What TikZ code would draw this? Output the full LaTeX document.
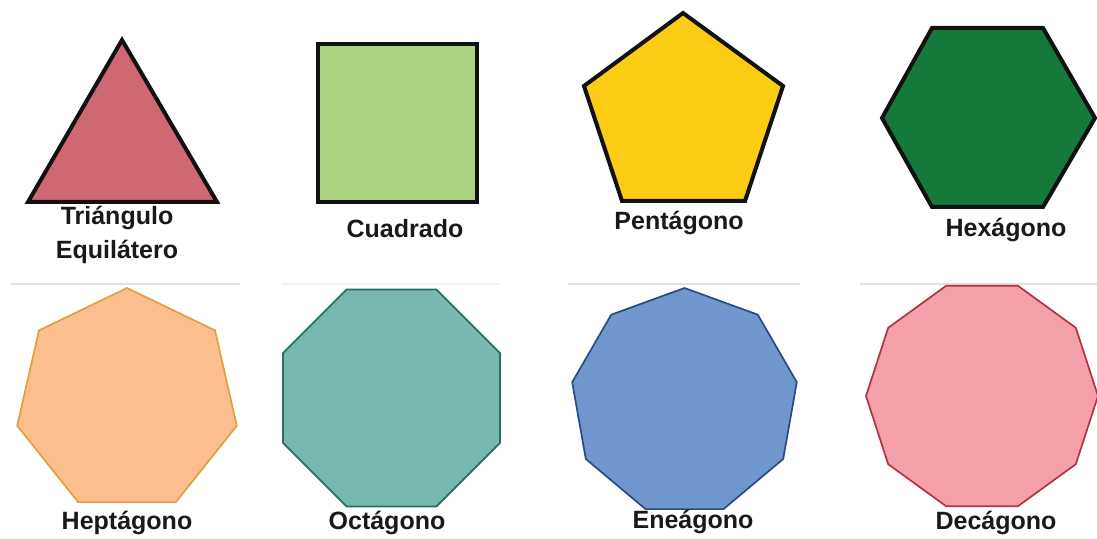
\documentclass[tikz,border=0pt]{standalone}
\usepackage{fontspec}
\setmainfont{Liberation Sans}
\definecolor{trifill}{RGB}{206,104,114}
\definecolor{sqfill}{RGB}{171,209,131}
\definecolor{pentfill}{RGB}{252,203,20}
\definecolor{hexfill}{RGB}{20,121,58}
\definecolor{hepfill}{RGB}{252,190,142}
\definecolor{hepline}{RGB}{226,160,60}
\definecolor{octfill}{RGB}{120,184,174}
\definecolor{octline}{RGB}{40,110,100}
\definecolor{enefill}{RGB}{111,150,205}
\definecolor{eneline}{RGB}{40,75,135}
\definecolor{decfill}{RGB}{244,161,170}
\definecolor{decline}{RGB}{180,50,70}
\definecolor{labelcol}{RGB}{25,25,25}
\definecolor{sepcol}{RGB}{225,225,225}
\definecolor{sepfaint}{RGB}{242,242,242}
\tikzset{
  boldshape/.style={draw={rgb,255:red,17;green,17;blue,17}, line width=2pt, line join=miter},
  thinshape/.style={line width=0.85pt, line join=miter},
  lbl/.style={font=\fontsize{12.5}{18}\selectfont\bfseries, text=labelcol, inner sep=0pt, align=center},
  sepline/.style={draw=sepcol, line width=0.6pt}
}
\begin{document}
\begin{tikzpicture}[x=0.5pt,y=-0.5pt]
\useasboundingbox (0,0) rectangle (1097,539);
\fill[white] (0,0) rectangle (1097,539);
% separator lines
\draw[sepline] (10,284) -- (240,284);
\draw[sepline, draw=sepfaint] (282,284) -- (500,284);
\draw[sepline] (568,284) -- (800,284);
\draw[sepline] (860,284) -- (1097,284);
% row 1
\draw[boldshape, fill=trifill] (122,40) -- (217,202) -- (28,202) -- cycle;
\draw[boldshape, fill=sqfill] (318,44) rectangle (477,202);
\draw[boldshape, fill=pentfill] (683,13) -- (783,86) -- (745,201) -- (622,201) -- (584,86) -- cycle;
\draw[boldshape, fill=hexfill] (932,28) -- (1043,28) -- (1095,118) -- (1043,207) -- (932,207) -- (882,118) -- cycle;
% row 2
\draw[thinshape, draw=hepline, fill=hepfill] (127,288) -- (215.0,330.4) -- (236.8,425.7) -- (175.9,502.1) -- (78.1,502.1) -- (17.2,425.7) -- (39.0,330.4) -- cycle;
\draw[thinshape, draw=octline, fill=octfill] (346.6,289.5) -- (436.4,289.5) -- (500,353.1) -- (500,442.9) -- (436.4,506.5) -- (346.6,506.5) -- (283,442.9) -- (283,353.1) -- cycle;
\draw[thinshape, draw=eneline, fill=enefill] (684.5,288) -- (757.8,314.7) -- (796.8,382.2) -- (783.2,459) -- (723.5,509.1) -- (645.5,509.1) -- (585.8,459) -- (572.2,382.2) -- (611.2,314.7) -- cycle;
\draw[thinshape, draw=decline, fill=decfill] (1098,396) -- (1075.8,327.8) -- (1017.8,285.7) -- (946.2,285.7) -- (888.2,327.8) -- (866,396) -- (888.2,464.2) -- (946.2,506.3) -- (1017.8,506.3) -- (1075.8,464.2) -- cycle;
% labels
\node[lbl] (ltri1) at (117,218) {Triángulo};
\node[lbl] (ltri2) at (117,252) {Equilátero};
\node[lbl] (lsq) at (405,229) {Cuadrado};
\node[lbl] (lpent) at (679,223) {Pentágono};
\node[lbl] (lhex) at (1006,230) {Hexágono};
\node[lbl] (lhep) at (127,523) {Heptágono};
\node[lbl] (loct) at (387,523) {Octágono};
\node[lbl] (lene) at (693,522) {Eneágono};
\node[lbl] (ldec) at (996,523) {Decágono};
\end{tikzpicture}
\end{document}
